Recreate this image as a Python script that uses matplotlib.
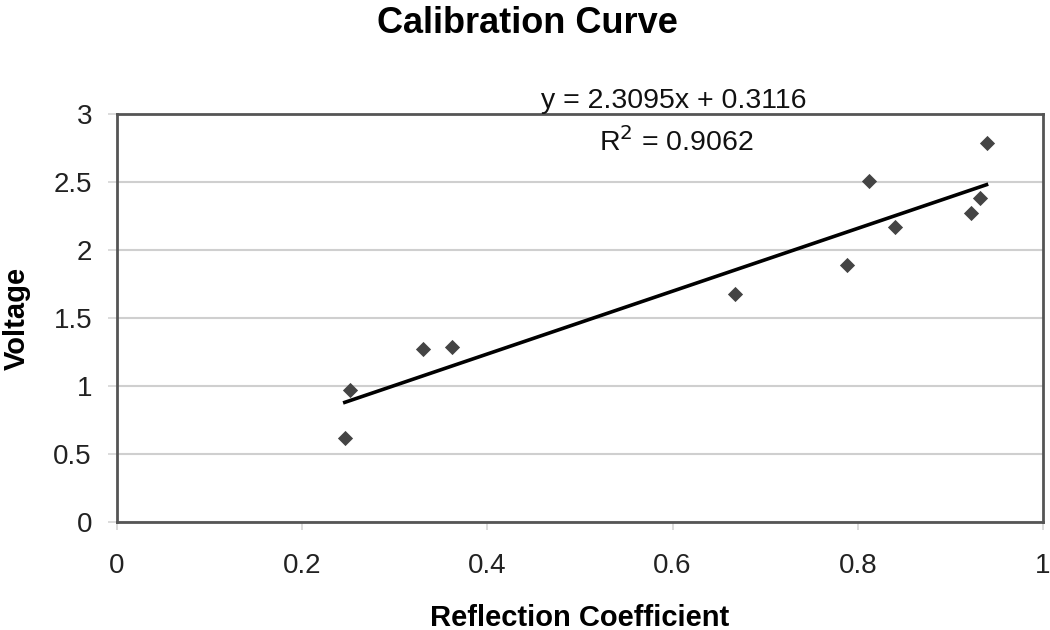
import matplotlib
matplotlib.use("Agg")
import matplotlib.pyplot as plt
import numpy as np

plt.rcParams['font.family'] = ['Liberation Sans', 'DejaVu Sans']

reflection = [0.246, 0.252, 0.330, 0.362, 0.667, 0.788, 0.812, 0.840, 0.922, 0.932, 0.939]
voltage = [0.62, 0.97, 1.27, 1.285, 1.68, 1.89, 2.507, 2.17, 2.27, 2.38, 2.79]
slope = 2.3095
intercept = 0.3116
r2 = 0.9062
xticks = [0, 0.2, 0.4, 0.6, 0.8, 1]
yticks = [0, 0.5, 1, 1.5, 2, 2.5, 3]
xticklabels = ['0', '0.2', '0.4', '0.6', '0.8', '1']
yticklabels = ['0', '0.5', '1', '1.5', '2', '2.5', '3']

W, H = 1050, 630
fig = plt.figure(figsize=(10.5, 6.3), dpi=100)
ax = fig.add_axes([117/W, 1-522/H, (1043-117)/W, (522-114)/H])

ax.set_xlim(0, 1)
ax.set_ylim(0, 3)
ax.set_xticks(xticks)
ax.set_yticks(yticks)
ax.set_xticklabels(xticklabels)
ax.set_yticklabels(yticklabels)
ax.yaxis.grid(True, color='#cfcfcf', linewidth=1.5)
ax.set_axisbelow(True)
for s in ax.spines.values():
    s.set_color('#555555')
    s.set_linewidth(2)
ax.tick_params(axis='both', labelsize=20, colors='#d5d5d5', labelcolor='#222222', width=1.2)
ax.tick_params(axis='y', length=6.5, pad=11.5)
ax.tick_params(axis='x', length=6, pad=16)

xs = np.array([min(reflection), max(reflection)])
ax.plot(xs, slope * xs + intercept, color='black', linewidth=2.6, zorder=3)
ax.scatter(reflection, voltage, marker='D', s=60, color='#444444', zorder=4, linewidths=0)

fig.text(674/W, 1-108/H, f'y = {slope}x + {intercept}', fontsize=20.5, ha='center',
         va='baseline', color='#111111')
fig.text(676/W, 1-151/H, f'R$^2$ = {r2}', fontsize=20.5, ha='center', va='baseline',
         color='#111111')

ax.set_xlabel('Reflection Coefficient', fontsize=21, fontweight='bold', labelpad=18)
ax.set_ylabel('Voltage', fontsize=21, fontweight='bold', labelpad=16)
fig.text(527/W, 1-33/H, 'Calibration Curve', fontsize=26, fontweight='bold', ha='center',
         va='baseline')

fig.savefig('out.png', dpi=100)
